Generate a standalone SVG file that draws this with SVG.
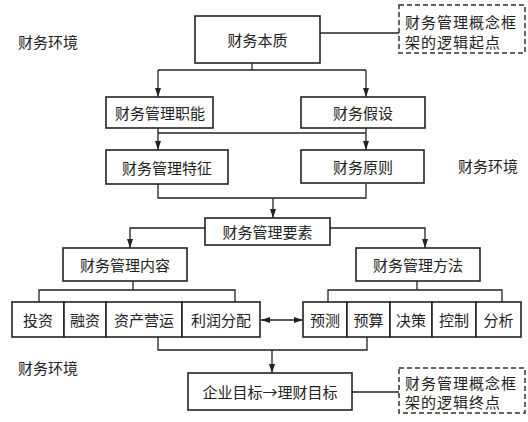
<svg xmlns="http://www.w3.org/2000/svg" width="528" height="422" viewBox="0 0 528 422">
<defs>
<marker id="ah" markerWidth="10" markerHeight="10" refX="9" refY="5" orient="auto" markerUnits="userSpaceOnUse">
<path d="M0,2 L9,5 L0,8 Z" fill="#222"/>
</marker>
<marker id="ahs" markerWidth="10" markerHeight="10" refX="1" refY="5" orient="auto" markerUnits="userSpaceOnUse">
<path d="M10,2 L1,5 L10,8 Z" fill="#222"/>
</marker>
<style>
.b{fill:#fff;stroke:#222;stroke-width:1.6}
.d{fill:#fff;stroke:#333;stroke-width:1.5;stroke-dasharray:5 3}
.c{fill:none;stroke:#222;stroke-width:1.3}
text{font-family:"Noto Sans CJK SC","Noto Sans CJK JP",sans-serif;font-size:15px;fill:#222}
.m{text-anchor:middle;dominant-baseline:central}
.l{dominant-baseline:central}
</style>
</defs>
<rect width="528" height="422" fill="#fff"/>

<g id="connectors">
<path class="c" d="M320,33 H399"/>
<path class="c" d="M252,63 V70"/>
<path class="c" d="M158,70 H366"/>
<path class="c" d="M158,70 V97" marker-end="url(#ah)"/>
<path class="c" d="M366,70 V97" marker-end="url(#ah)"/>
<path class="c" d="M158,128 V150" marker-end="url(#ah)"/>
<path class="c" d="M366,128 V150" marker-end="url(#ah)"/>
<path class="c" d="M158,133 H366"/>
<path class="c" d="M158,184 V198 H366 V184"/>
<path class="c" d="M273,198 V218" marker-end="url(#ah)"/>
<path class="c" d="M205,228 H130 V248" marker-end="url(#ah)"/>
<path class="c" d="M330,228 H425 V248" marker-end="url(#ah)"/>
<path class="c" d="M133,281 V290"/>
<path class="c" d="M39,302 V290 H235 V302"/>
<path class="c" d="M417,281 V290"/>
<path class="c" d="M328,302 V290 H502 V302"/>
<path class="c" d="M261,320 H303" marker-start="url(#ahs)" marker-end="url(#ah)"/>
<path class="c" d="M158,337 V350 H367 V337"/>
<path class="c" d="M272,350 V373" marker-end="url(#ah)"/>
<path class="c" d="M352,392 H399"/>
</g>

<g id="env-top"><text class="l" x="18" y="41">财务环境</text></g>
<g id="env-right"><text class="l" x="458" y="165">财务环境</text></g>
<g id="env-bottom"><text class="l" x="18" y="367">财务环境</text></g>

<g id="n-benzhi"><rect class="b" x="195" y="16" width="125" height="47"/><text class="m" x="257.5" y="39.5">财务本质</text></g>
<g id="n-start"><rect class="d" x="399" y="5" width="126" height="48"/><text class="l" x="405" y="21" letter-spacing="1">财务管理概念框</text><text class="l" x="405" y="41" letter-spacing="1">架的逻辑起点</text></g>

<g id="n-zhineng"><rect class="b" x="106" y="97" width="107" height="31"/><text class="m" x="160" y="112.5">财务管理职能</text></g>
<g id="n-jiashe"><rect class="b" x="301" y="97" width="124" height="31"/><text class="m" x="363" y="112.5">财务假设</text></g>
<g id="n-tezheng"><rect class="b" x="106" y="150" width="122" height="34"/><text class="m" x="167" y="167">财务管理特征</text></g>
<g id="n-yuanze"><rect class="b" x="301" y="150" width="123" height="33"/><text class="m" x="363" y="166">财务原则</text></g>

<g id="n-yaosu"><rect class="b" x="205" y="218" width="125" height="27"/><text class="m" x="267.5" y="231.5">财务管理要素</text></g>
<g id="n-neirong"><rect class="b" x="63" y="248" width="124" height="33"/><text class="m" x="125" y="264.5">财务管理内容</text></g>
<g id="n-fangfa"><rect class="b" x="356" y="248" width="124" height="33"/><text class="m" x="418" y="264.5">财务管理方法</text></g>

<g id="n-touzi"><rect class="b" x="12" y="302" width="52" height="35"/><text class="m" x="38" y="319.5">投资</text></g>
<g id="n-rongzi"><rect class="b" x="64" y="302" width="42" height="35"/><text class="m" x="85" y="319.5">融资</text></g>
<g id="n-yingyun"><rect class="b" x="106" y="302" width="76" height="35"/><text class="m" x="144" y="319.5">资产营运</text></g>
<g id="n-fenpei"><rect class="b" x="182" y="302" width="78" height="35"/><text class="m" x="221" y="319.5">利润分配</text></g>

<g id="n-yuce"><rect class="b" x="303" y="302" width="44" height="35"/><text class="m" x="325" y="319.5">预测</text></g>
<g id="n-yusuan"><rect class="b" x="347" y="302" width="43" height="35"/><text class="m" x="368.5" y="319.5">预算</text></g>
<g id="n-juece"><rect class="b" x="390" y="302" width="42" height="35"/><text class="m" x="411" y="319.5">决策</text></g>
<g id="n-kongzhi"><rect class="b" x="432" y="302" width="44" height="35"/><text class="m" x="454" y="319.5">控制</text></g>
<g id="n-fenxi"><rect class="b" x="476" y="302" width="45" height="35"/><text class="m" x="498.5" y="319.5">分析</text></g>

<g id="n-mubiao"><rect class="b" x="188" y="373" width="164" height="37"/><text class="m" x="270" y="391.5">企业目标→理财目标</text></g>
<g id="n-end"><rect class="d" x="399" y="368" width="126" height="45"/><text class="l" x="405" y="382" letter-spacing="1">财务管理概念框</text><text class="l" x="405" y="401" letter-spacing="1">架的逻辑终点</text></g>
</svg>
